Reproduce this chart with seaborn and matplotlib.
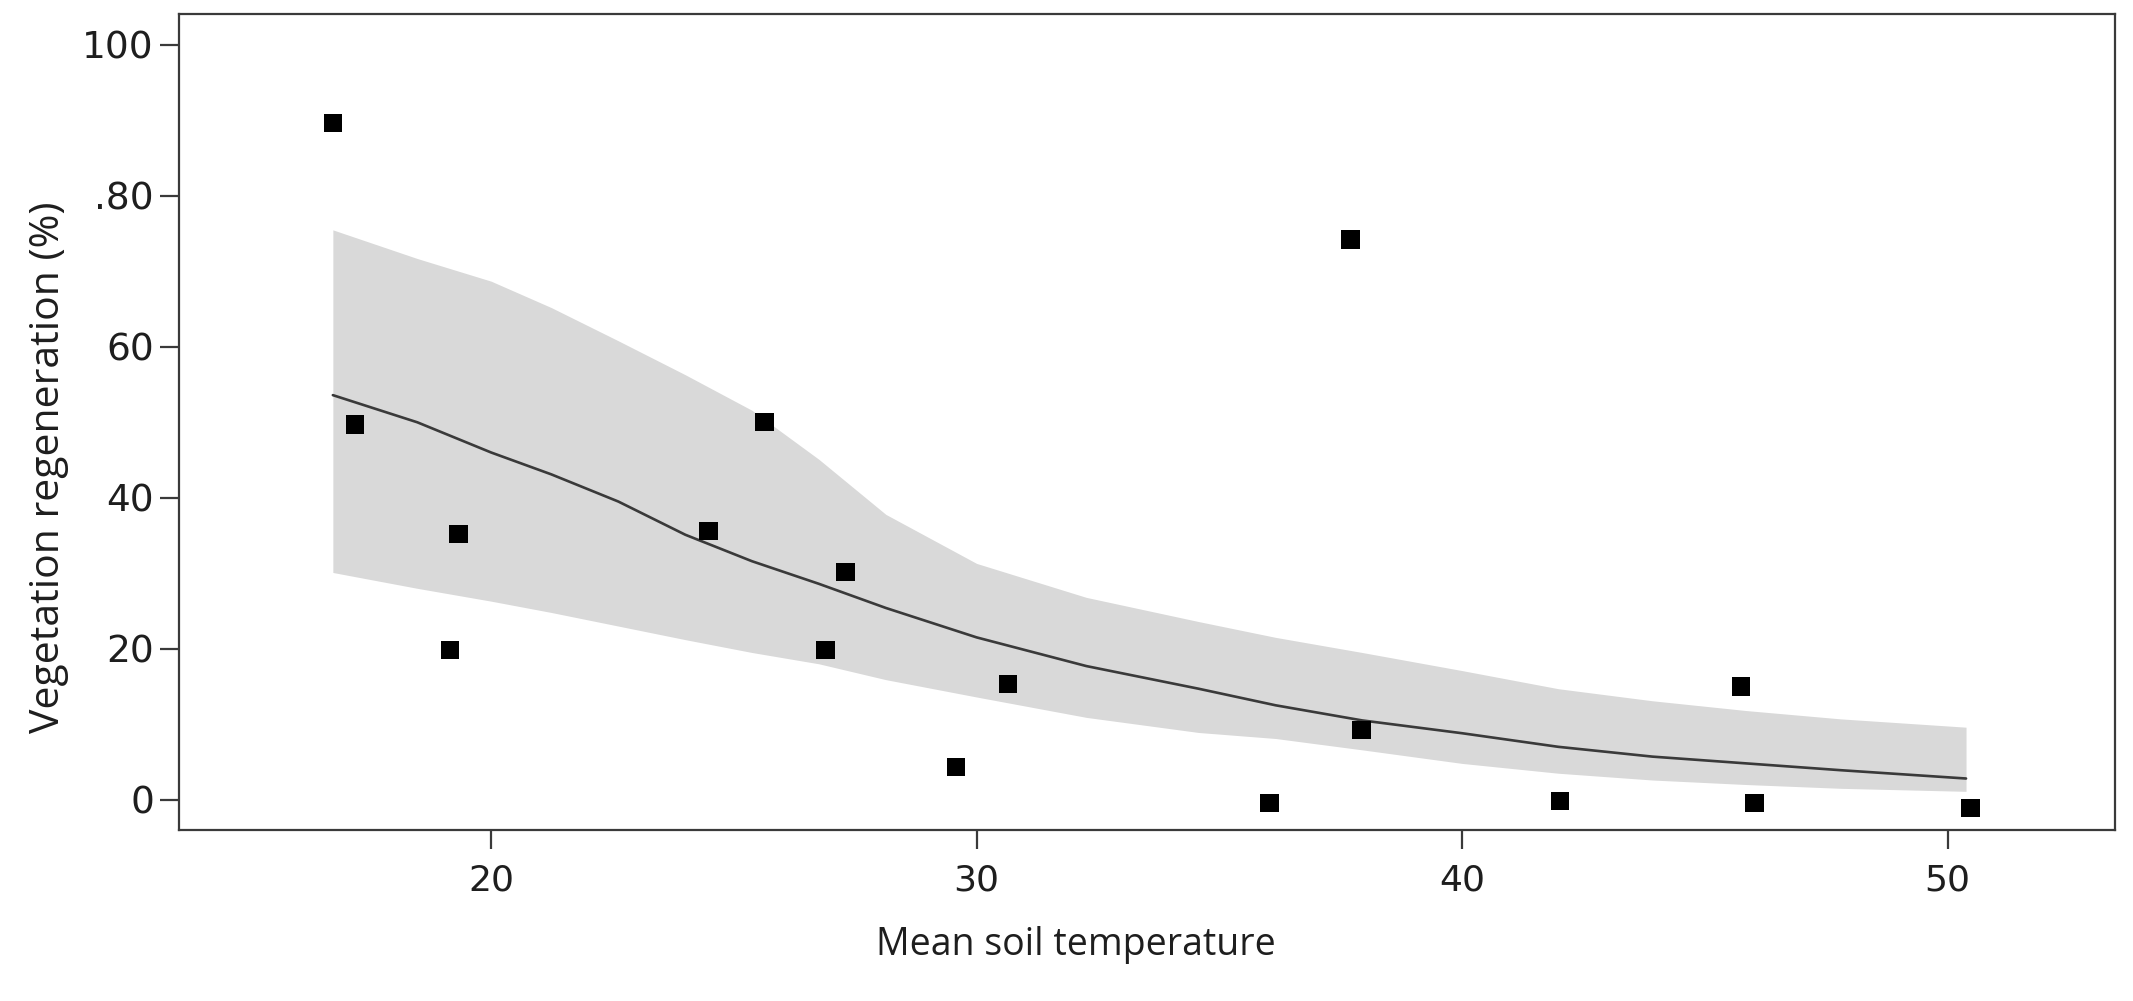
import matplotlib
matplotlib.use("Agg")
import matplotlib.pyplot as plt
import seaborn as sns

# observed points
soil_temp = [16.74, 17.20, 19.15, 19.33, 24.48, 25.63, 26.89, 27.30, 29.58, 30.65,
             36.03, 37.70, 37.93, 42.02, 45.74, 46.02, 50.47]
regen = [89.7, 49.7, 19.8, 35.2, 35.6, 50.0, 19.8, 30.2, 4.3, 15.3,
         -0.45, 74.2, 9.2, -0.2, 15.0, -0.45, -1.1]

# fitted curve and its confidence band
fit_x = [16.74, 18.48, 20.0, 21.24, 22.62, 24.0, 25.37, 26.75, 28.13, 30.0,
         32.26, 34.57, 36.16, 37.94, 40.0, 41.98, 43.92, 45.86, 47.8, 50.38]
fit_y = [53.6, 50.0, 46.0, 43.1, 39.5, 35.1, 31.6, 28.6, 25.4, 21.5,
         17.7, 14.7, 12.5, 10.5, 8.8, 7.0, 5.7, 4.8, 3.9, 2.8]
ci_high = [75.5, 71.7, 68.7, 65.2, 60.8, 56.3, 51.6, 45.1, 37.8, 31.3,
           26.8, 23.6, 21.5, 19.5, 17.1, 14.7, 13.1, 11.8, 10.7, 9.6]
ci_low = [30.1, 28.0, 26.3, 24.8, 23.0, 21.2, 19.5, 18.0, 15.9, 13.6,
          10.9, 8.9, 8.1, 6.6, 4.8, 3.5, 2.6, 2.0, 1.5, 1.1]

x_ticks = [20, 30, 40, 50]
y_ticks = [0, 20, 40, 60, 80, 100]
y_tick_labels = ["0", "20", "40", "60", ".80", "100"]

sns.set_style("white")
plt.rcParams["font.family"] = ["DejaVu Sans"]

fig = plt.figure(figsize=(21.33, 10.01), dpi=100)
ax = fig.add_axes([0.0839, 0.171, 0.9077, 0.815])

edge = "#3a3a3a"
ax.fill_between(fit_x, ci_low, ci_high, color="#d9d9d9", linewidth=0, zorder=1)
sns.lineplot(x=fit_x, y=fit_y, color="#3a3a3a", linewidth=1.9, ax=ax, zorder=2)
sns.scatterplot(x=soil_temp, y=regen, marker="s", s=175, color="black",
                edgecolor="none", ax=ax, zorder=3)

ax.set_xlim(13.57, 53.45)
ax.set_ylim(-4.0, 104.1)
ax.set_xticks(x_ticks)
ax.set_yticks(y_ticks)
ax.set_yticklabels(y_tick_labels)

for sp in ax.spines.values():
    sp.set_visible(True)
    sp.set_color(edge)
    sp.set_linewidth(1.6)

ax.tick_params(axis="both", which="major", direction="out", length=14, width=1.6,
               color=edge, labelcolor="#1e1e1e")
ax.tick_params(axis="y", labelsize=27, pad=4)
ax.tick_params(axis="x", labelsize=26, pad=10)
ax.tick_params(top=False, right=False, bottom=True, left=True)

label_font = ["Open Sans", "DejaVu Sans"]
ax.set_xlabel("Mean soil temperature", fontsize=27, family=label_font, color="#1e1e1e")
ax.set_ylabel("Vegetation regeneration (%)", fontsize=29.5, family=label_font, color="#1e1e1e")
ax.xaxis.set_label_coords(0.463, -0.118)
ax.yaxis.set_label_coords(-0.057, 0.444)

fig.savefig("out.png", dpi=100)
